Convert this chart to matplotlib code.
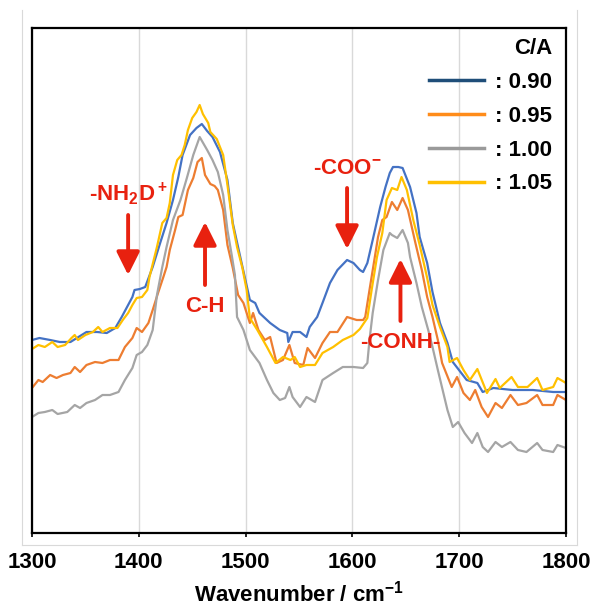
import numpy as np
import matplotlib.pyplot as plt
from matplotlib.lines import Line2D

plt.rcParams['font.family'] = ['Liberation Sans', 'DejaVu Sans']
plt.rcParams['font.weight'] = 'bold'
plt.rcParams['mathtext.fontset'] = 'custom'
plt.rcParams['mathtext.rm'] = 'Liberation Sans:bold'
plt.rcParams['mathtext.bf'] = 'Liberation Sans:bold'

# spectra (wavenumber, absorbance in arbitrary units)
wn_090 = [1300, 1307, 1317, 1326, 1336, 1342, 1351, 1361, 1370, 1378, 1384, 1389, 1394, 1396, 1401, 1406,
          1413, 1420, 1426, 1432, 1437, 1441, 1448, 1454, 1459, 1464, 1469, 1476, 1483, 1488, 1495, 1504,
          1509, 1513, 1523, 1532, 1539, 1540, 1544, 1551, 1557, 1560, 1567, 1572, 1579, 1586, 1595, 1601,
          1607, 1610, 1614, 1619, 1626, 1631, 1635, 1638, 1643, 1647, 1654, 1660, 1663, 1670, 1675, 1682,
          1689, 1694, 1707, 1717, 1722, 1732, 1750, 1769, 1788, 1800]
ab_090 = [.193, .195, .193, .191, .191, .195, .201, .201, .200, .205, .216, .226, .236, .243, .244, .246,
          .266, .290, .310, .333, .356, .378, .398, .405, .409, .402, .396, .381, .353, .310, .276, .233,
          .230, .220, .210, .203, .200, .191, .201, .201, .196, .206, .216, .230, .250, .263, .273, .270,
          .263, .261, .270, .293, .326, .346, .360, .366, .366, .365, .346, .320, .296, .270, .241, .210,
          .190, .171, .153, .150, .141, .145, .143, .143, .141, .141]

wn_095 = [1300, 1306, 1310, 1317, 1323, 1329, 1336, 1340, 1345, 1351, 1359, 1366, 1373, 1381, 1387, 1394,
          1398, 1403, 1409, 1413, 1418, 1423, 1426, 1429, 1434, 1437, 1441, 1446, 1451, 1455, 1459, 1462,
          1467, 1471, 1474, 1479, 1483, 1488, 1493, 1498, 1504, 1507, 1512, 1518, 1523, 1529, 1535, 1541,
          1546, 1554, 1558, 1565, 1572, 1579, 1586, 1595, 1604, 1610, 1612, 1616, 1621, 1624, 1628, 1632,
          1637, 1642, 1647, 1652, 1659, 1665, 1670, 1675, 1680, 1684, 1693, 1698, 1704, 1710, 1715, 1721,
          1727, 1734, 1740, 1748, 1755, 1763, 1773, 1778, 1788, 1792, 1800]
ab_095 = [.145, .153, .151, .158, .155, .158, .160, .166, .161, .168, .171, .170, .173, .173, .186, .195,
          .205, .201, .210, .223, .240, .256, .266, .283, .303, .316, .318, .343, .355, .371, .375, .358,
          .349, .347, .343, .323, .288, .265, .238, .230, .210, .220, .203, .193, .196, .170, .173, .188,
          .170, .168, .185, .175, .190, .201, .201, .216, .213, .213, .216, .243, .276, .296, .313, .316,
          .331, .323, .335, .323, .290, .263, .236, .216, .193, .170, .146, .156, .140, .133, .143, .126,
          .116, .130, .125, .138, .128, .130, .138, .128, .128, .138, .133]

wn_100 = [1300, 1306, 1312, 1319, 1324, 1333, 1340, 1345, 1351, 1359, 1366, 1373, 1381, 1387, 1394, 1398,
          1403, 1408, 1413, 1417, 1422, 1426, 1432, 1439, 1445, 1451, 1457, 1464, 1469, 1474, 1479, 1483,
          1487, 1490, 1492, 1498, 1504, 1513, 1520, 1526, 1532, 1537, 1541, 1544, 1551, 1557, 1565, 1572,
          1582, 1591, 1601, 1610, 1614, 1616, 1619, 1624, 1629, 1635, 1637, 1642, 1647, 1652, 1654, 1660,
          1665, 1671, 1675, 1680, 1689, 1694, 1699, 1705, 1712, 1717, 1722, 1727, 1734, 1740, 1748, 1755,
          1763, 1773, 1778, 1788, 1792, 1800]
ab_100 = [.116, .120, .121, .123, .119, .121, .128, .125, .130, .133, .138, .138, .141, .153, .165, .178,
          .181, .188, .203, .238, .266, .286, .313, .333, .355, .378, .396, .383, .373, .361, .338, .303,
          .278, .258, .216, .203, .183, .170, .153, .140, .133, .135, .146, .136, .126, .136, .131, .153,
          .160, .166, .166, .165, .170, .193, .220, .253, .283, .300, .298, .295, .303, .290, .276, .250,
          .226, .203, .186, .163, .123, .106, .111, .100, .090, .100, .086, .081, .091, .086, .091, .083,
          .081, .090, .083, .081, .088, .085]

wn_105 = [1300, 1306, 1312, 1319, 1324, 1331, 1337, 1340, 1343, 1350, 1357, 1362, 1366, 1373, 1380, 1385,
          1390, 1394, 1398, 1403, 1408, 1410, 1417, 1422, 1426, 1429, 1432, 1436, 1440, 1443, 1446, 1450,
          1454, 1457, 1460, 1465, 1467, 1473, 1479, 1483, 1488, 1492, 1497, 1501, 1504, 1511, 1520, 1528,
          1535, 1542, 1546, 1551, 1557, 1565, 1572, 1582, 1591, 1601, 1607, 1614, 1618, 1623, 1628, 1632,
          1637, 1642, 1646, 1651, 1657, 1663, 1670, 1675, 1682, 1689, 1691, 1698, 1704, 1710, 1717, 1726,
          1734, 1738, 1749, 1755, 1764, 1773, 1778, 1788, 1792, 1800]
ab_105 = [.184, .188, .186, .191, .186, .188, .195, .198, .193, .198, .201, .206, .201, .205, .205, .213,
          .220, .228, .235, .236, .243, .256, .286, .310, .315, .330, .358, .373, .378, .388, .403, .415,
          .421, .428, .419, .410, .401, .394, .378, .348, .308, .286, .265, .243, .215, .203, .186, .170,
          .176, .173, .176, .166, .168, .168, .180, .186, .193, .198, .204, .215, .243, .276, .300, .333,
          .345, .343, .356, .343, .313, .288, .255, .228, .206, .186, .171, .175, .163, .153, .164, .140,
          .154, .145, .156, .146, .146, .155, .143, .146, .155, .150]

series = [(wn_090, ab_090, '#4472C4'), (wn_095, ab_095, '#ED7D31'),
          (wn_100, ab_100, '#A5A5A5'), (wn_105, ab_105, '#FFC000')]
legend_labels = [': 0.90', ': 0.95', ': 1.00', ': 1.05']
legend_colors = ['#1F4E79', '#FF8C1A', '#9A9A9A', '#FFC000']

fig = plt.figure(figsize=(5.92, 6.08), dpi=100)
ax = fig.add_axes([32 / 592, 75 / 608, 534 / 592, 505 / 608])

# thin light frame of the chart area
frame = dict(color='#d9d9d9', lw=0.8, transform=fig.transFigure)
fig.add_artist(Line2D([22 / 592, 22 / 592], [63 / 608, 598 / 608], **frame))
fig.add_artist(Line2D([577 / 592, 577 / 592], [63 / 608, 598 / 608], **frame))
fig.add_artist(Line2D([22 / 592, 577 / 592], [63 / 608, 63 / 608], **frame))

for wn, ab, col in series:
    ax.plot(wn, ab, color=col, lw=1.6)

ax.set_xlim(1300, 1800)
ax.set_ylim(0, 0.505)
ax.set_xticks([1300, 1400, 1500, 1600, 1700, 1800])
ax.set_yticks([])
ax.grid(axis='x', color='#d9d9d9', lw=1)
ax.set_axisbelow(True)
for s in ax.spines.values():
    s.set_linewidth(1.6)
ax.tick_params(axis='x', direction='out', length=3, width=1.2, pad=11, labelsize=16)
ax.set_xlabel('Wavenumber / cm$^{-1}$', fontsize=16, fontweight='bold', labelpad=5)

# legend with its own line colours
handles = [Line2D([], [], color=c, lw=2.5) for c in legend_colors]
leg = ax.legend(handles, legend_labels, title='C/A', loc='upper right',
                bbox_to_anchor=(1.012, 1.02), frameon=False, fontsize=16,
                title_fontsize=16, handlelength=2.5, handletextpad=0.5,
                labelspacing=0.58, alignment='right')
leg.get_title().set_fontweight('bold')

# band assignments
red = '#E8210F'
arrow = dict(arrowstyle='-|>,head_width=0.35,head_length=0.7', color=red, lw=2.8,
             mutation_scale=20, shrinkA=0, shrinkB=0)
notes = [('-NH$_2$D$^+$', 1390, 0.339, 0.318, 0.258),
         ('C-H', 1462, 0.227, 0.248, 0.311),
         ('-COO$^{-}$', 1595, 0.365, 0.345, 0.284),
         ('-CONH-', 1645, 0.191, 0.212, 0.274)]
for txt, x, ty, y0, y1 in notes:
    ax.text(x, ty, txt, color=red, fontsize=16, fontweight='bold', ha='center', va='center')
    ax.annotate('', xy=(x, y1), xytext=(x, y0), arrowprops=arrow)

plt.savefig('out.png', dpi=100)
